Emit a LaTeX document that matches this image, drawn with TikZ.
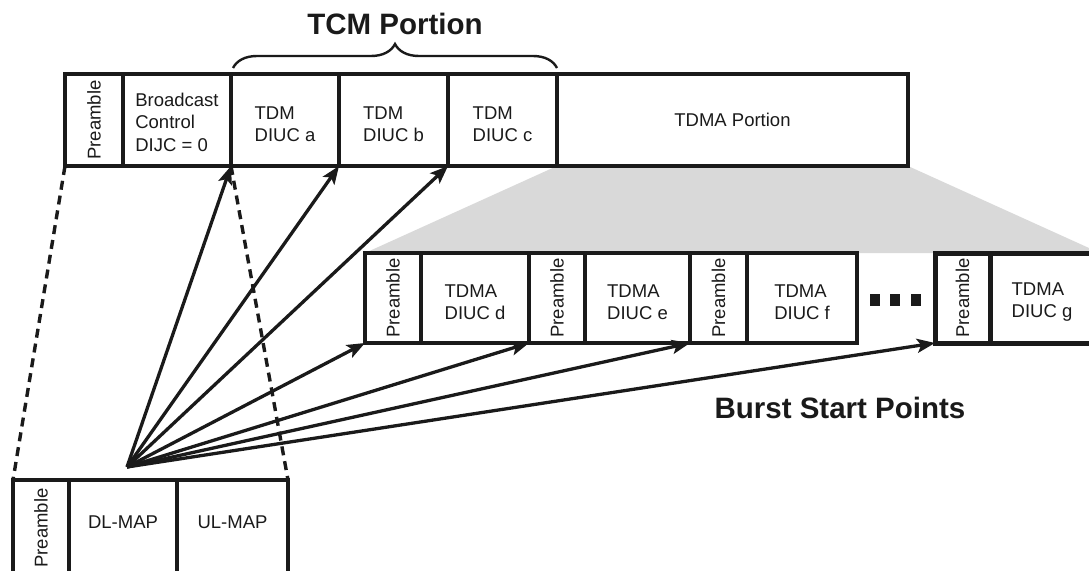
\documentclass[tikz,border=0pt]{standalone}
\usepackage{fontspec}
\setmainfont{Liberation Sans}
\usetikzlibrary{arrows.meta,decorations.pathreplacing,backgrounds}
\definecolor{ink}{HTML}{1A1A1A}
\definecolor{wedge}{HTML}{D9D9D9}
\newcommand\cellfont{\fontsize{18.5}{22.5}\selectfont}
\newcommand\bigbold{\fontsize{29.5}{34}\selectfont\bfseries}
\begin{document}
\begin{tikzpicture}[x=1pt,y=-1pt,
  cell/.style={draw=ink, line width=3.4pt, minimum width=#1, inner sep=0pt, outer sep=0pt,
    anchor=north west},
  toprow/.style={cell=#1, minimum height=92pt},
  midrow/.style={cell=#1, minimum height=90pt},
  lastrow/.style={cell=#1, minimum height=90pt, line width=5pt},
  botrow/.style={cell=#1, minimum height=130pt},
  rot/.style={rotate=90, font=\cellfont, text=ink, inner sep=0pt},
  lbl/.style={font=\cellfont, text=ink, inner sep=0pt, align=left},
  burst/.style={draw=ink, line width=3.3pt, -{Stealth[length=18pt,width=14pt,inset=4pt]}},
  link/.style={draw=ink, line width=3.4pt, dash pattern=on 9pt off 6pt},
  title/.style={font=\bigbold, text=ink, inner sep=0pt}
]
\clip (0,0) rectangle (1089,570);
% top frame
\node[toprow=58pt]  (tp)   at (65,74)  {};
\node[toprow=108pt] (bc)   at (123,74) {};
\node[toprow=108pt] (ta)   at (231,74) {};
\node[toprow=109pt] (tb)   at (339,74) {};
\node[toprow=109pt] (tc)   at (448,74) {};
\node[toprow=351pt] (tdma) at (557,74) {};
\node[rot] at (tp.center) {Preamble};
\node[lbl] at ([yshift=-2pt]bc.center) {Broadcast\\Control\\DIJC = 0};
\node[lbl] at ([yshift=-4pt]ta.center) {TDM\\DIUC a};
\node[lbl] at ([yshift=-4pt]tb.center) {TDM\\DIUC b};
\node[lbl] at ([yshift=-4pt]tc.center) {TDM\\DIUC c};
\node[lbl] at (tdma.center) {TDMA Portion};
% middle row
\node[midrow=56pt]  (mp1) at (365,253) {};
\node[midrow=108pt] (md)  at (421,253) {};
\node[midrow=56pt]  (mp2) at (529,253) {};
\node[midrow=105pt] (me)  at (585,253) {};
\node[midrow=57pt]  (mp3) at (690,253) {};
\node[midrow=110pt] (mf)  at (747,253) {};
\node[lastrow=55pt] (mp4) at (935,253) {};
\node[lastrow=112pt](mg)  at (990,253) {};
\node[rot] at (mp1.center) {Preamble};
\node[rot] at (mp2.center) {Preamble};
\node[rot] at (mp3.center) {Preamble};
\node[rot] at (mp4.center) {Preamble};
\node[lbl] at ([yshift=-4pt]md.center) {TDMA\\DIUC d};
\node[lbl] at ([yshift=-4pt]me.center) {TDMA\\DIUC e};
\node[lbl] at ([yshift=-4pt]mf.center) {TDMA\\DIUC f};
\node[lbl] at ([xshift=-4pt,yshift=-4pt]mg.center) {TDMA\\DIUC g};
% dots
\fill[ink] (870,294) rectangle (880,306);
\fill[ink] (890,294) rectangle (900,306);
\fill[ink] (911,294) rectangle (921,306);
% bottom frame
\node[botrow=56pt]  (bp) at (13,480)  {};
\node[botrow=108pt] (dl) at (69,480)  {};
\node[botrow=111pt] (ul) at (177,480) {};
\node[rot] at (41,528) {Preamble};
\node[lbl] at (123,522) {DL-MAP};
\node[lbl] at (232.5,522) {UL-MAP};
% gray wedge
\begin{scope}[on background layer]
\fill[wedge] (tdma.south west) -- (tdma.south east) -- (1089,248) -- (1089,253) -- (mp1.north west) -- cycle;
\end{scope}
% brace and titles
\draw[ink, line width=2.4pt, decorate, decoration={brace, amplitude=24pt}] (233,68) -- (557,68);
\node[title] at (395,24) {TCM Portion};
\node[title] at (840,408) {Burst Start Points};
% dashed links
\draw[link] (tp.south west) -- (bp.north west);
\draw[link] (bc.south east) -- (ul.north east);
% burst start arrows
\coordinate (o) at (127,467);
\draw[burst] (o) -- (bc.south east);
\draw[burst] (o) -- (ta.south east);
\draw[burst] (o) -- (tb.south east);
\draw[burst] (o) -- (mp1.south west);
\draw[burst] (o) -- (md.south east);
\draw[burst] (o) -- (me.south east);
\draw[burst] (o) -- (mp4.south west);
\end{tikzpicture}
\end{document}
